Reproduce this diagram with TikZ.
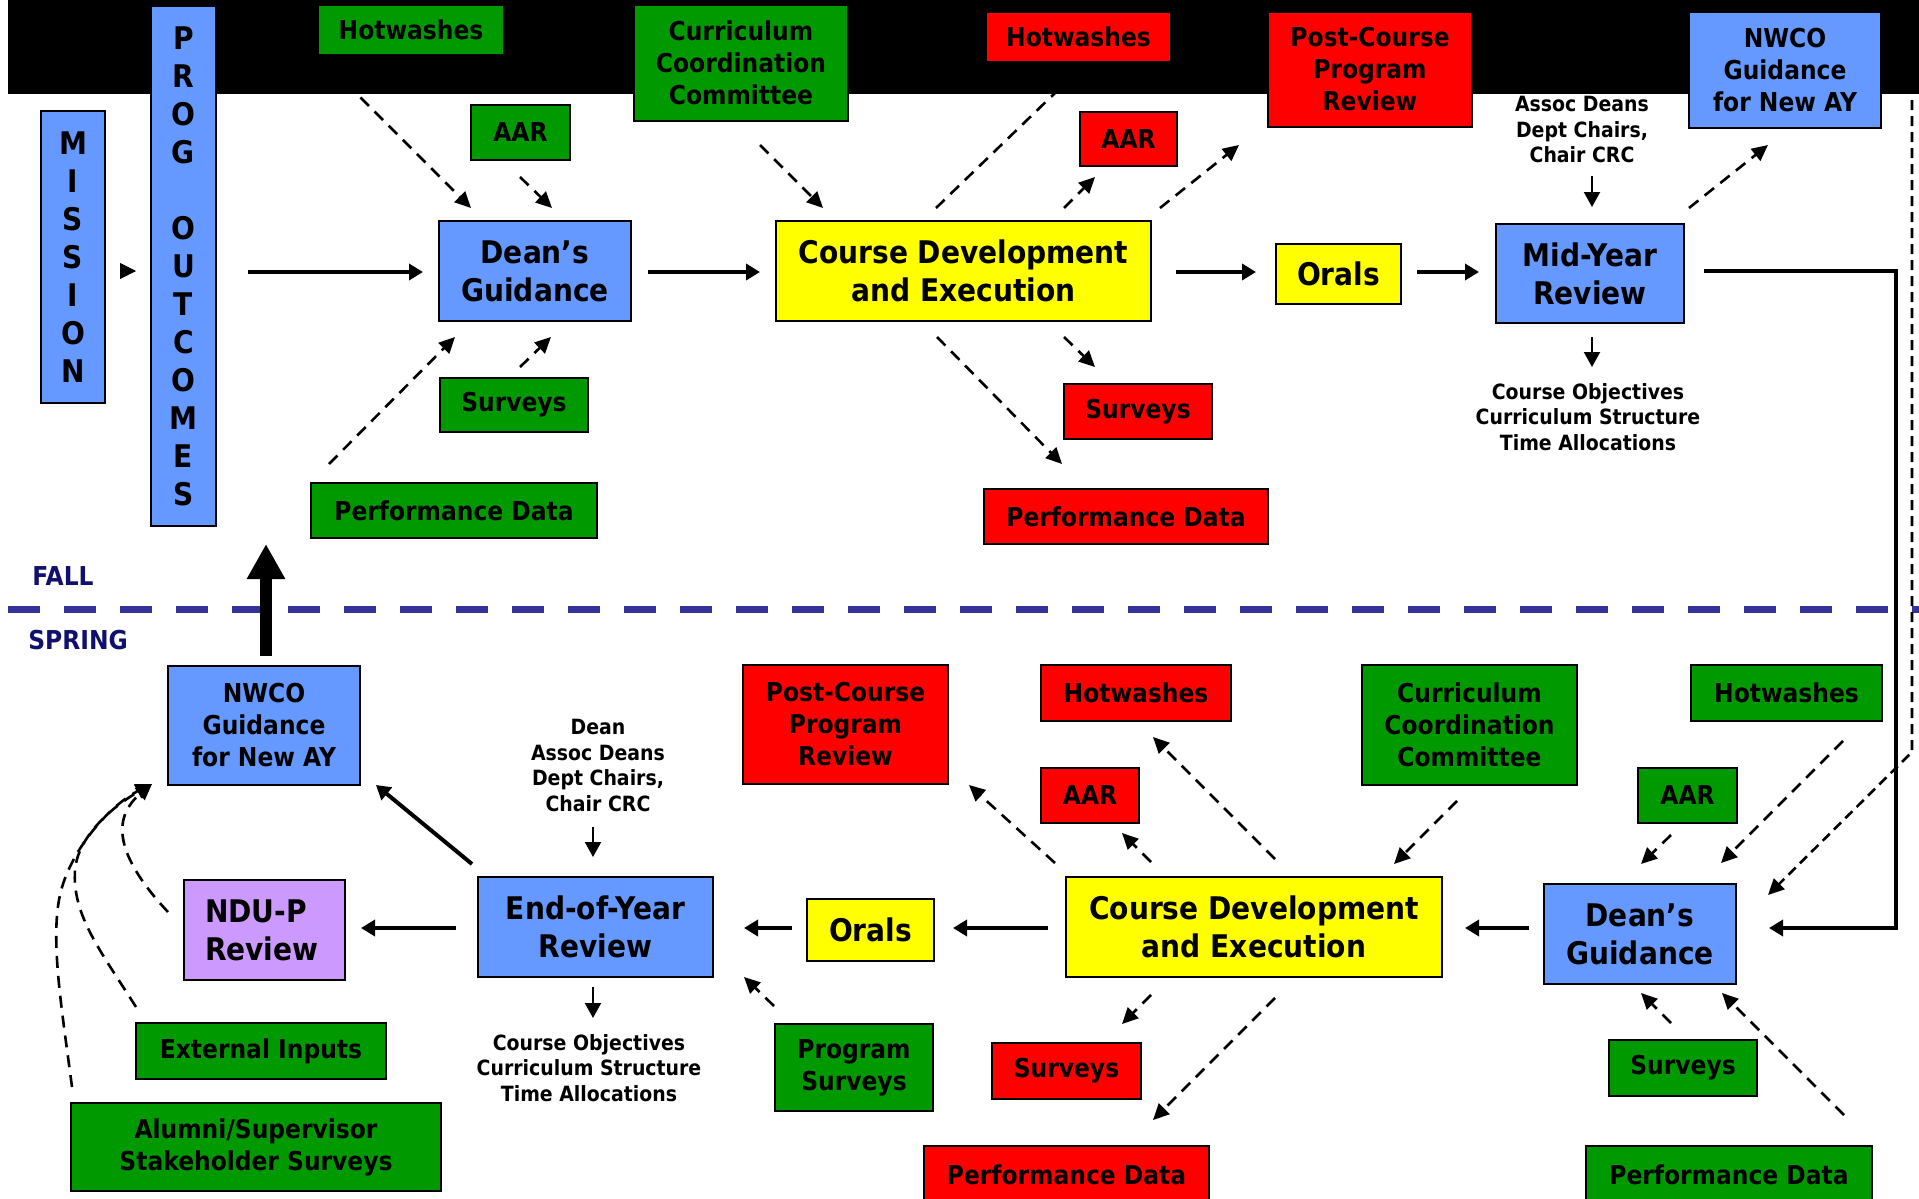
\documentclass[tikz,border=0pt]{standalone}
\usepackage{fontspec}
\setmainfont{DejaVu Sans}[FakeStretch=0.9]
\usetikzlibrary{arrows.meta}
\definecolor{cblue}{HTML}{6699FF}
\definecolor{cgreen}{HTML}{009900}
\definecolor{cred}{HTML}{FF0000}
\definecolor{cyel}{HTML}{FFFF00}
\definecolor{cpurp}{HTML}{CC99FF}
\definecolor{cnavy}{HTML}{10106E}
\definecolor{csep}{HTML}{333399}
\newcommand\BX[7]{%
 \pgfmathsetmacro\bxw{(#4-#2)*0.5}%
 \pgfmathsetmacro\bxh{(#5-#3)*0.5}%
 \node[#6, minimum width=\bxw pt, minimum height=\bxh pt] (#1) at ({(#2+#4)/2},{(#3+#5)/2}) {#7};}
\newcommand\AR[4]{\coordinate (#1s) at (#2); \coordinate (#1e) at (#3); \draw[#4] (#1s) -- (#1e);}
\begin{document}
\begin{tikzpicture}[x=0.5pt,y=-0.5pt,
  box/.style={draw=black, line width=1.4pt, inner sep=0pt, align=center, text=black},
  mf/.style={font=\fontsize{15.6}{19}\selectfont\bfseries},
  lf/.style={font=\fontsize{13}{16}\selectfont\bfseries},
  sf/.style={font=\fontsize{10.5}{12.8}\selectfont\bfseries},
  bluebox/.style={box, fill=cblue},
  greenbox/.style={box, fill=cgreen},
  redbox/.style={box, fill=cred},
  yelbox/.style={box, fill=cyel},
  purpbox/.style={box, fill=cpurp},
  conn/.style={line width=2pt, -{Triangle[length=7pt,width=8pt]}},
  dconn/.style={line width=1.3pt, dash pattern=on 6pt off 4pt, -{Triangle[length=8pt,width=7.5pt]}},
  thinconn/.style={line width=1pt, -{Triangle[length=7.5pt,width=8pt]}},
  label/.style={sf, align=center, inner sep=0pt, text=black},
  season/.style={font=\fontsize{13}{16}\selectfont\bfseries, text=cnavy, inner sep=0pt}
]
\useasboundingbox (0,0) rectangle (1919,1199);
\fill[white] (0,0) rectangle (1919,1199);
\fill[black] (8,0) rectangle (1919,94);
\draw[csep, line width=3.5pt, dash pattern=on 16pt off 12pt] (8,609.5) -- (1919,609.5);

% ---------- FALL ----------
\BX{mission}{41}{111}{105}{403}{bluebox,mf}{M\\I\\S\\S\\I\\O\\N}
\BX{prog}{151}{6}{216}{526}{bluebox,mf}{P\\R\\O\\G\\[19pt]O\\U\\T\\C\\O\\M\\E\\S}
\BX{hw1}{318}{5}{504}{55}{greenbox,lf}{Hotwashes}
\BX{aar1}{471}{105}{570}{160}{greenbox,lf}{AAR}
\BX{dg1}{439}{221}{631}{321}{bluebox,mf}{Dean’s\\Guidance}
\BX{sv1}{440}{378}{588}{432}{greenbox,lf}{Surveys}
\BX{pd1}{311}{483}{597}{538}{greenbox,lf}{Performance Data}
\BX{ccc1}{634}{5}{848}{121}{greenbox,lf}{Curriculum\\Coordination\\Committee}
\BX{cde1}{776}{221}{1151}{321}{yelbox,mf}{Course Development\\and Execution}
\BX{hw2}{986}{12}{1171}{62}{redbox,lf}{Hotwashes}
\BX{aar2}{1080}{112}{1177}{166}{redbox,lf}{AAR}
\BX{pcr1}{1268}{12}{1472}{127}{redbox,lf}{Post-Course\\Program\\Review}
\BX{sv2}{1064}{384}{1212}{439}{redbox,lf}{Surveys}
\BX{pd2}{984}{489}{1268}{544}{redbox,lf}{Performance Data}
\BX{or1}{1276}{244}{1401}{304}{yelbox,mf}{Orals}
\BX{my}{1496}{224}{1684}{323}{bluebox,mf}{Mid-Year\\Review}
\BX{nw1}{1689}{12}{1881}{128}{bluebox,lf}{NWCO\\Guidance\\for New AY}
\node[label, anchor=north] (assoc1) at (1582,96) {Assoc Deans\\Dept Chairs,\\Chair CRC};
\node[label, anchor=north] (obj1) at (1588,383) {Course Objectives\\Curriculum Structure\\Time Allocations};
\node[season, anchor=base west] (fall) at (32,585) {FALL};
\node[season, anchor=base west] (spring) at (28,649) {SPRING};

% ---------- SPRING ----------
\BX{dg2}{1544}{884}{1736}{984}{bluebox,mf}{Dean’s\\Guidance}
\BX{hw3}{1691}{665}{1882}{721}{greenbox,lf}{Hotwashes}
\BX{aar3}{1638}{768}{1737}{823}{greenbox,lf}{AAR}
\BX{ccc2}{1362}{665}{1577}{785}{greenbox,lf}{Curriculum\\Coordination\\Committee}
\BX{sv3}{1609}{1040}{1757}{1096}{greenbox,lf}{Surveys}
\BX{pd3}{1586}{1146}{1872}{1204}{greenbox,lf}{Performance Data}
\BX{cde2}{1066}{877}{1442}{977}{yelbox,mf}{Course Development\\and Execution}
\BX{hw4}{1041}{665}{1231}{721}{redbox,lf}{Hotwashes}
\BX{aar4}{1041}{768}{1139}{823}{redbox,lf}{AAR}
\BX{pcr2}{743}{665}{948}{784}{redbox,lf}{Post-Course\\Program\\Review}
\BX{sv4}{992}{1043}{1141}{1099}{redbox,lf}{Surveys}
\BX{pd4}{924}{1146}{1209}{1204}{redbox,lf}{Performance Data}
\BX{or2}{807}{899}{934}{961}{yelbox,mf}{Orals}
\BX{eoy}{478}{877}{713}{977}{bluebox,mf}{End-of-Year\\Review}
\BX{ps}{775}{1024}{933}{1111}{greenbox,lf}{Program\\Surveys}
\BX{ndu}{184}{880}{345}{980}{purpbox,mf,align=left,text width=59.5pt,inner xsep=10.5pt}{NDU-P\\Review}
\BX{nw2}{168}{666}{360}{785}{bluebox,lf}{NWCO\\Guidance\\for New AY}
\BX{ext}{136}{1023}{386}{1079}{greenbox,lf}{External Inputs}
\BX{alu}{71}{1103}{441}{1191}{greenbox,lf}{Alumni/Supervisor\\Stakeholder Surveys}
\node[label, anchor=north] (dean2) at (598,719) {Dean\\Assoc Deans\\Dept Chairs,\\Chair CRC};
\node[label, anchor=north] (obj2) at (589,1034) {Course Objectives\\Curriculum Structure\\Time Allocations};

% ---------- FALL connectors ----------
\AR{a1}{120,271}{136,271}{line width=0.4pt,-{Triangle[length=8pt,width=8pt]}}
\AR{a2}{248,272}{423,272}{conn}
\AR{a3}{318,55}{471,208}{dconn}
\AR{a4}{520,177}{552,208}{dconn}
\AR{a5}{520,367}{551,337}{dconn}
\AR{a6}{329,464}{455,337}{dconn}
\AR{a7}{648,272}{760,272}{conn}
\AR{a8}{760,145}{823,208}{dconn}
\AR{a9}{936,208}{1085,64}{dconn}
\AR{a10}{1064,208}{1095,177}{dconn}
\AR{a11}{1160,208}{1239,145}{dconn}
\AR{a12}{1064,337}{1095,367}{dconn}
\AR{a13}{937,337}{1062,464}{dconn}
\AR{a14}{1176,272}{1256,272}{conn}
\AR{a15}{1417,272}{1479,272}{conn}
\AR{a16}{1592,176}{1592,207}{thinconn}
\AR{a17}{1592,337}{1592,367}{thinconn}
\AR{a18}{1689,208}{1768,145}{dconn}
\coordinate (a19s) at (1704,271);
\coordinate (a19e) at (1769,928);
\draw[conn, miter limit=10] (a19s) -- (1896,271) -- (1896,928) -- (a19e);
\coordinate (a20s) at (1912,100);
\coordinate (a20e) at (1768,895);
\draw[line width=1.3pt, dash pattern=on 5pt off 3pt, -{Triangle[length=8pt,width=7.5pt]}] (a20s) -- (1912,752) -- (a20e);

% ---------- SPRING connectors ----------
\AR{b1}{1843,741}{1721,863}{dconn}
\AR{b2}{1671,835}{1641,864}{dconn}
\AR{b3}{1671,1023}{1641,993}{dconn}
\AR{b4}{1844,1115}{1722,993}{dconn}
\AR{b5}{1529,928}{1465,928}{conn}
\AR{b6}{1457,801}{1394,864}{dconn}
\AR{b7}{1275,859}{1153,737}{dconn}
\AR{b8}{1151,862}{1122,833}{dconn}
\AR{b9}{1055,863}{969,785}{dconn}
\AR{b10}{1151,995}{1122,1024}{dconn}
\AR{b11}{1275,998}{1153,1120}{dconn}
\AR{b12}{1048,928}{953,928}{conn}
\AR{b13}{792,928}{744,928}{conn}
\AR{b14}{774,1006}{744,977}{dconn}
\AR{b15}{593,827}{593,857}{thinconn}
\AR{b16}{593,987}{593,1018}{thinconn}
\AR{b17}{456,928}{361,928}{conn}
\AR{b18}{472,864}{376,785}{conn}
\AR{b19}{266,656}{266,544}{line width=6pt,-{Triangle[length=17.5pt,width=18pt]}}
\coordinate (ctip) at (152,784);
\coordinate (c1s) at (168,912);
\coordinate (c2s) at (136,1007);
\coordinate (c3s) at (72,1087);
\draw[dconn] (c1s) .. controls (110,850) and (115,815) .. (ctip);
\draw[dconn] (c2s) .. controls (100,950) and (72,915) .. (75,870) .. controls (78,835) and (115,805) .. (ctip);
\draw[dconn] (c3s) .. controls (62,1010) and (50,940) .. (60,895) .. controls (70,850) and (110,805) .. (ctip);
\end{tikzpicture}
\end{document}
